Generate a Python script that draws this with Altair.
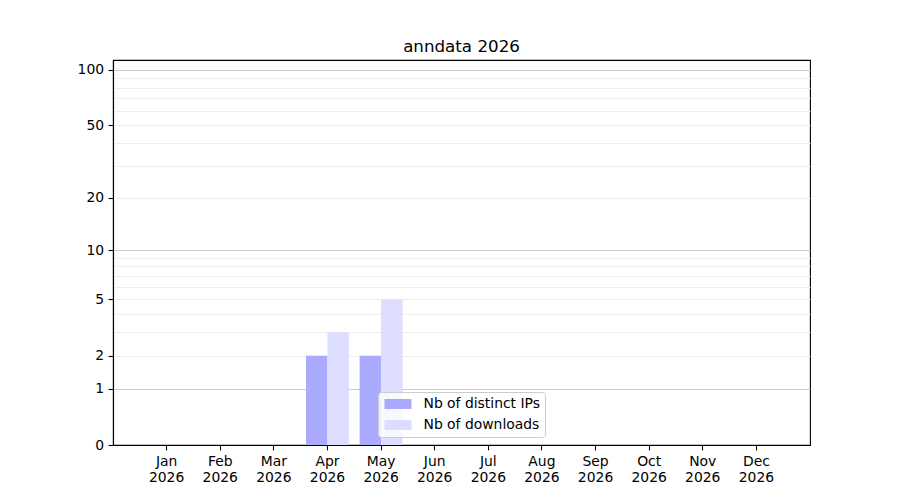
import altair as alt
import pandas as pd

TITLE = "anndata 2026"
YEAR = "2026"
MONTHS = ["Jan", "Feb", "Mar", "Apr", "May", "Jun",
          "Jul", "Aug", "Sep", "Oct", "Nov", "Dec"]
SERIES = ["Nb of distinct IPs", "Nb of downloads"]
IPS = [0, 0, 0, 2, 2, 0, 0, 0, 0, 0, 0, 0]
DOWNLOADS = [0, 0, 0, 3, 5, 0, 0, 0, 0, 0, 0, 0]
COLORS = ["#aaaaff", "#ddddff"]

Y_LABELED = [0, 1, 2, 5, 10, 20, 50, 100]
Y_MAJOR_GRID = [1, 10, 100]
Y_ALL_TICKS = [0, 1, 2, 3, 4, 5, 6, 7, 8, 9, 10, 20, 30, 40, 50, 60, 70, 80, 90, 100]
Y_MAX = 113

rows = []
for m, a, b in zip(MONTHS, IPS, DOWNLOADS):
    rows.append({"month": m, "series": SERIES[0], "value": a})
    rows.append({"month": m, "series": SERIES[1], "value": b})
df = pd.DataFrame(rows)

FONT = "DejaVu Sans"
lab = str(Y_LABELED)
maj = str(Y_MAJOR_GRID)

chart = alt.Chart(df).mark_bar().encode(
    x=alt.X("month:N", sort=MONTHS,
            scale=alt.Scale(paddingInner=0.2, paddingOuter=0.6),
            axis=alt.Axis(title=None, labelAngle=0,
                          labelExpr=f"[datum.label, '{YEAR}']",
                          labelFont=FONT, labelFontSize=13.9, labelColor="black",
                          labelLineHeight=16, labelPadding=4.5,
                          tickColor="black", tickSize=4.9, tickWidth=1.1,
                          domainColor="black", domainWidth=1.1, grid=False)),
    xOffset=alt.XOffset("series:N", sort=SERIES,
                        scale=alt.Scale(paddingInner=0, paddingOuter=0)),
    y=alt.Y("value:Q",
            scale=alt.Scale(type="symlog", constant=1, domain=[0, Y_MAX], nice=False),
            axis=alt.Axis(title=None, values=Y_ALL_TICKS, format="d",
                          labelExpr=f"indexof({lab}, datum.value) >= 0 ? datum.label : ''",
                          labelFont=FONT, labelFontSize=13.9, labelColor="black",
                          labelPadding=4.5,
                          tickColor="black", tickSize=4.9, tickWidth=1.1,
                          tickOpacity={"expr": f"indexof({lab}, datum.value) >= 0 ? 1 : 0"},
                          domainColor="black", domainWidth=1.1,
                          grid=True,
                          gridColor={"expr": f"indexof({maj}, datum.value) >= 0 ? '#cccccc' : '#eeeeee'"},
                          gridOpacity={"expr": "datum.value == 0 ? 0 : 1"},
                          gridWidth=1)),
    color=alt.Color("series:N", sort=SERIES,
                    scale=alt.Scale(domain=SERIES, range=COLORS),
                    legend=alt.Legend(title=None, orient="none", legendX=265, legendY=332,
                                      symbolType="M-0.786,-0.714H3.07V0.714H-0.786Z",
                                      symbolSize=196, symbolStrokeWidth=0,
                                      labelFont=FONT, labelFontSize=13.9, labelColor="black",
                                      labelOffset=26.5, rowPadding=7, padding=5,
                                      fillColor="rgba(255,255,255,0.8)",
                                      strokeColor="#cccccc",
                                      cornerRadius=3, zindex=2)),
).properties(
    width=697, height=385,
    title=alt.TitleParams(TITLE, font=FONT, fontSize=16.7, fontWeight="normal",
                          color="black", anchor="middle", offset=8, dy=17,
                          baseline="alphabetic"),
    autosize=alt.AutoSizeParams(type="none"),
    padding={"left": 105, "top": 52, "right": 80, "bottom": 50},
).configure_view(stroke="black", strokeWidth=1.1
).configure_legend(strokeWidth=1)

chart.save("out.html", embed_options={"renderer": "svg", "actions": False})
